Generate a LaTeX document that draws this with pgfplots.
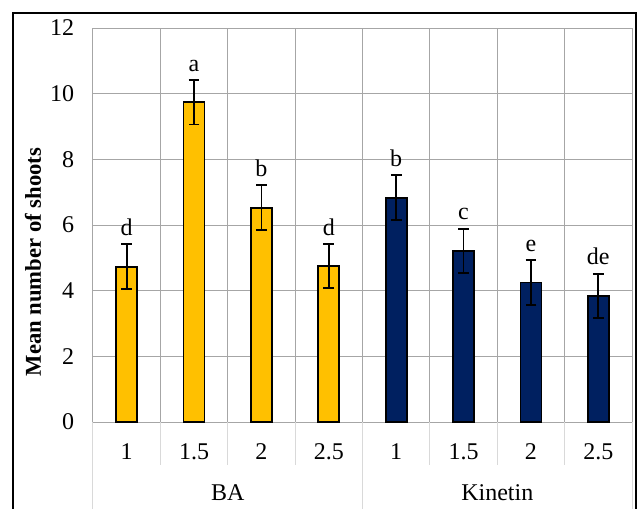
\documentclass[border=0pt]{standalone}
\usepackage{pgfplots}
\usepackage{pgfplotstable}
\usepackage{fontspec}
\setmainfont{Liberation Serif}
\pgfplotsset{compat=1.18}

\definecolor{baYellow}{HTML}{FFC000}
\definecolor{kinNavy}{HTML}{002060}
\definecolor{gridGray}{HTML}{A6A6A6}
\definecolor{sepGray}{HTML}{D9D9D9}

% x  mean  error  letter
\pgfplotstableread{
x  y     e     lab
0  4.73  0.68  d
1  9.74  0.68  a
2  6.53  0.68  b
3  4.75  0.68  d
}\batable
\pgfplotstableread{
x  y     e     lab
4  6.83  0.68  b
5  5.21  0.68  c
6  4.25  0.68  e
7  3.84  0.68  de
}\kintable

\newcommand{\chartfont}{\fontsize{18}{21}\selectfont}

\begin{document}
\begin{tikzpicture}
\useasboundingbox (-69.75pt,-64.5pt) rectangle (409.5pt,316.5pt);
% chart frame (open at the bottom edge)
\draw[line width=1.4pt] (-60pt,-80pt) -- (-60pt,306.75pt) -- (407.25pt,306.75pt) -- (407.25pt,-80pt);
\begin{axis}[
  at={(0,0)}, anchor=south west,
  scale only axis, width=404.25pt, height=295.5pt,
  xmin=-0.5, xmax=7.5, ymin=0, ymax=12,
  ytick={0,2,...,12},
  xtick={0,...,7},
  xticklabels={1,1.5,2,2.5,1,1.5,2,2.5},
  minor xtick={-0.5,0.5,...,7.5},
  xminorgrids, ymajorgrids,
  major tick length=0pt, minor tick length=0pt,
  grid style={gridGray, line width=0.75pt},
  minor grid style={gridGray, line width=0.75pt},
  axis line style={gridGray, line width=0.75pt},
  tick label style={font=\chartfont},
  /pgf/number format/assume math mode=true,
  yticklabel style={anchor=east, inner sep=0pt, xshift=-14pt},
  xticklabel style={anchor=center, inner sep=0pt, yshift=-22.5pt},
  ylabel={\bfseries Mean number of shoots},
  ylabel style={at={(axis description cs:-0.0965,0.406)}, anchor=base,
    font=\fontsize{17}{20}\selectfont},
  ybar, bar width=15.75pt, bar shift=0pt,
  clip=false,
]
% separators of the category axis
\pgfplotsinvokeforeach{0.5,1.5,2.5,4.5,5.5,6.5}{
  \draw[sepGray, line width=0.75pt] (axis cs:#1,0) -- (axis cs:#1,-1.31);
}
\pgfplotsinvokeforeach{-0.5,3.5,7.5}{
  \draw[sepGray, line width=0.75pt] (axis cs:#1,0) -- (axis cs:#1,-3);
}
\node[font=\chartfont, anchor=center] at (axis cs:1.5,-2.16) {BA};
\node[font=\chartfont, anchor=center] at (axis cs:5.5,-2.16) {Kinetin};

\addplot[fill=baYellow, draw=black, line width=1.4pt,
  error bars/.cd, y dir=both, y explicit,
  error bar style={line width=1.4pt, black},
  error mark options={rotate=90, mark size=4pt, line width=1.4pt, black}]
  table[x=x, y=y, y error=e] {\batable};
\addplot[fill=kinNavy, draw=black, line width=1.4pt,
  error bars/.cd, y dir=both, y explicit,
  error bar style={line width=1.4pt, black},
  error mark options={rotate=90, mark size=4pt, line width=1.4pt, black}]
  table[x=x, y=y, y error=e] {\kintable};

% significance letters above the error bars
\addplot[draw=none, mark=none, sharp plot,
  nodes near coords, point meta=explicit symbolic,
  every node near coord/.append style={anchor=base, yshift=6.5pt,
    font=\chartfont, black}]
  table[x=x, y expr=\thisrow{y}+\thisrow{e}, meta=lab] {\batable};
\addplot[draw=none, mark=none, sharp plot,
  nodes near coords, point meta=explicit symbolic,
  every node near coord/.append style={anchor=base, yshift=6.5pt,
    font=\chartfont, black}]
  table[x=x, y expr=\thisrow{y}+\thisrow{e}, meta=lab] {\kintable};
\end{axis}
\end{tikzpicture}
\end{document}
